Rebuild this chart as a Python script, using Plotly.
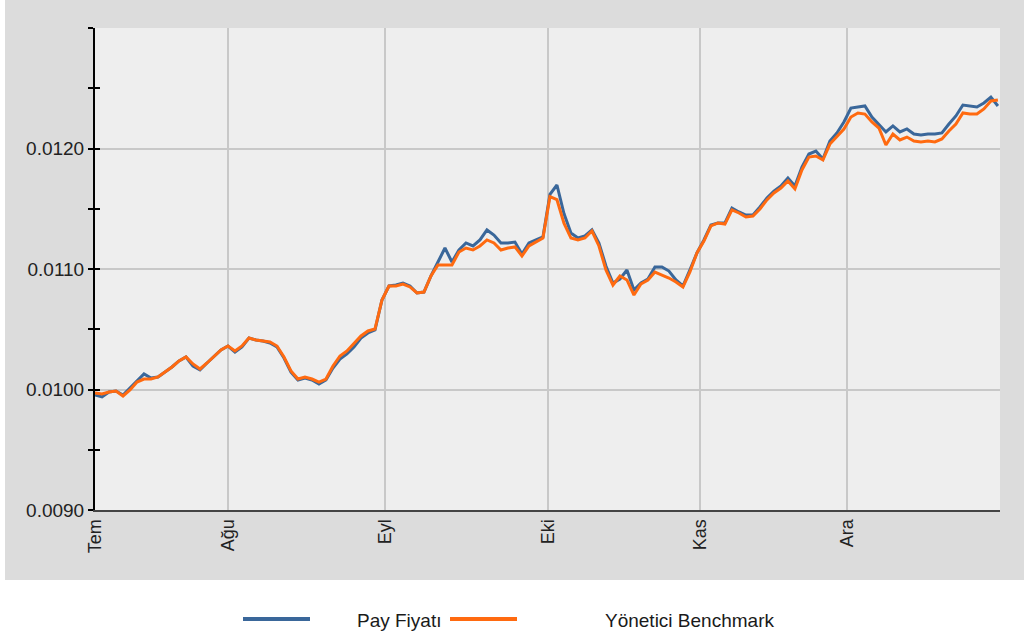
import plotly.graph_objects as go

# trading-day index series
pay_fiyati = [
    0.009954, 0.009938, 0.009979, 0.009987, 0.009954, 0.010012, 0.010070, 0.010129, 0.010095, 0.010104,
    0.010145, 0.010187, 0.010237, 0.010270, 0.010195, 0.010162, 0.010220, 0.010270, 0.010328, 0.010361,
    0.010311, 0.010353, 0.010427, 0.010411, 0.010403, 0.010386, 0.010353, 0.010261, 0.010145, 0.010079,
    0.010095, 0.010079, 0.010046, 0.010079, 0.010178, 0.010253, 0.010295, 0.010353, 0.010427, 0.010469,
    0.010494, 0.010743, 0.010859, 0.010867, 0.010884, 0.010859, 0.010801, 0.010809, 0.010942, 0.011058,
    0.011174, 0.011058, 0.011158, 0.011216, 0.011191, 0.011241, 0.011324, 0.011282, 0.011216, 0.011216,
    0.011224, 0.011125, 0.011216, 0.011241, 0.011266, 0.011620, 0.011697, 0.011460, 0.011299, 0.011257,
    0.011274, 0.011324, 0.011216, 0.011025, 0.010884, 0.010917, 0.010992, 0.010826, 0.010884, 0.010917,
    0.011017, 0.011017, 0.010983, 0.010909, 0.010859, 0.010992, 0.011133, 0.011241, 0.011365, 0.011382,
    0.011382, 0.011506, 0.011473, 0.011448, 0.011448, 0.011515, 0.011589, 0.011647, 0.011689, 0.011755,
    0.011689, 0.011846, 0.011954, 0.011979, 0.011913, 0.012062, 0.012129, 0.012220, 0.012336, 0.012344,
    0.012353, 0.012261, 0.012195, 0.012137, 0.012187, 0.012137, 0.012162, 0.012120, 0.012112, 0.012120,
    0.012120, 0.012129, 0.012203, 0.012270, 0.012361, 0.012353, 0.012344, 0.012378, 0.012427, 0.012353,
]
benchmark = [
    0.009971, 0.009963, 0.009979, 0.009987, 0.009946, 0.009996, 0.010062, 0.010087, 0.010087, 0.010104,
    0.010145, 0.010187, 0.010237, 0.010270, 0.010212, 0.010170, 0.010220, 0.010270, 0.010328, 0.010361,
    0.010320, 0.010361, 0.010427, 0.010411, 0.010403, 0.010394, 0.010361, 0.010270, 0.010154, 0.010087,
    0.010104, 0.010087, 0.010062, 0.010087, 0.010195, 0.010278, 0.010320, 0.010378, 0.010444, 0.010486,
    0.010502, 0.010743, 0.010859, 0.010859, 0.010875, 0.010851, 0.010801, 0.010809, 0.010942, 0.011033,
    0.011033, 0.011033, 0.011141, 0.011174, 0.011158, 0.011191, 0.011241, 0.011216, 0.011158, 0.011174,
    0.011183, 0.011108, 0.011191, 0.011224, 0.011257, 0.011600, 0.011575, 0.011380, 0.011257, 0.011241,
    0.011257, 0.011315, 0.011191, 0.010992, 0.010867, 0.010942, 0.010909, 0.010784, 0.010875, 0.010909,
    0.010975, 0.010950, 0.010925, 0.010892, 0.010851, 0.010975, 0.011133, 0.011232, 0.011357, 0.011382,
    0.011373, 0.011490, 0.011465, 0.011432, 0.011440, 0.011498, 0.011573, 0.011631, 0.011672, 0.011730,
    0.011664, 0.011822, 0.011929, 0.011938, 0.011905, 0.012037, 0.012104, 0.012162, 0.012261, 0.012295,
    0.012286, 0.012220, 0.012170, 0.012029, 0.012120, 0.012071, 0.012095, 0.012062, 0.012054, 0.012062,
    0.012054, 0.012079, 0.012145, 0.012203, 0.012295, 0.012286, 0.012286, 0.012328, 0.012394, 0.012402,
]
series_names = ["Pay Fiyatı", "Yönetici Benchmark"]
series_colors = ["#3a679a", "#ff6a10"]
month_labels = ["Tem", "Ağu", "Eyl", "Eki", "Kas", "Ara"]
month_start_index = [0, 19, 41.4, 64.7, 86.4, 107.4]
y_ticks = [0.009, 0.010, 0.011, 0.012]

days = list(range(len(pay_fiyati)))

W, H = 1024, 639
L, R, T, B = 95, 24, 28, 129
PW, PH = W - L - R, H - T - B


def px_x(p):
    return (p - L) / PW


def px_y(p):
    return (H - B - p) / PH


fig = go.Figure()
for vals, name, color in zip([pay_fiyati, benchmark], series_names, series_colors):
    fig.add_trace(go.Scatter(x=days, y=vals, mode="lines", name=name,
                             line=dict(color=color, width=3), showlegend=False))

# outer grey panel and plot background
fig.add_shape(type="rect", xref="paper", yref="paper",
              x0=px_x(5), x1=px_x(1024), y0=px_y(580), y1=px_y(0),
              fillcolor="#dcdcdc", line=dict(width=0), layer="below")
fig.add_shape(type="rect", xref="paper", yref="paper", x0=0, x1=1, y0=0, y1=1,
              fillcolor="#eeeeee", line=dict(width=0), layer="below")

# legend drawn beneath the panel
legend_line_x = [(243, 310), (450, 517)]
legend_text_x = [355, 603]
for (a, b), tx, name, color in zip(legend_line_x, legend_text_x, series_names, series_colors):
    fig.add_shape(type="line", xref="paper", yref="paper", x0=px_x(a), x1=px_x(b),
                  y0=px_y(619), y1=px_y(619), line=dict(color=color, width=4))
    fig.add_annotation(xref="paper", yref="paper", x=px_x(tx), y=px_y(620), text=name,
                       showarrow=False, xanchor="left", yanchor="middle",
                       font=dict(family="Liberation Sans, Arial, sans-serif", size=19,
                                 color="#1a1a1a"))

font_y = dict(family="Liberation Sans, Arial, sans-serif", size=19, color="#222222")
font_x = dict(family="Liberation Sans, Arial, sans-serif", size=18, color="#222222")

fig.update_layout(
    width=W, height=H,
    margin=dict(l=L, r=R, t=T, b=B, autoexpand=False),
    paper_bgcolor="white",
    plot_bgcolor="rgba(0,0,0,0)",
    showlegend=False,
    xaxis=dict(range=[0, 129.3], tickmode="array", tickvals=month_start_index, ticktext=month_labels,
               tickangle=-90, showgrid=True, gridcolor="#c8c8c8", gridwidth=2,
               zeroline=False, showline=True, linecolor="#444444", linewidth=2,
               ticks="", tickfont=font_x),
    yaxis=dict(range=[0.009, 0.013], tickmode="array", tickvals=y_ticks, tickformat=".4f",
               showgrid=True, gridcolor="#c8c8c8", gridwidth=2, zeroline=False,
               showline=True, linecolor="black", linewidth=2,
               ticks="outside", ticklen=5, tickwidth=2, tickcolor="black",
               minor=dict(tickmode="linear", tick0=0.009, dtick=0.0005, ticks="outside",
                          ticklen=5, tickwidth=2, tickcolor="black", showgrid=False),
               tickfont=font_y),
    yaxis2=dict(range=[0.009, 0.013], overlaying="y", side="left", tickmode="linear",
                tick0=0.009, dtick=0.0005, ticks="inside", ticklen=5, tickwidth=2,
                tickcolor="black", showticklabels=False, showgrid=False, zeroline=False,
                showline=False),
)
# invisible trace to activate yaxis2 (for the inner half of the cross ticks)
fig.add_trace(go.Scatter(x=[0], y=[0.0095], yaxis="y2", mode="lines", showlegend=False,
                         hoverinfo="skip", line=dict(width=0)))

fig.write_html("out.html", config={"displayModeBar": False},
               post_script="document.body.style.margin='0';document.body.style.overflow='hidden';")
